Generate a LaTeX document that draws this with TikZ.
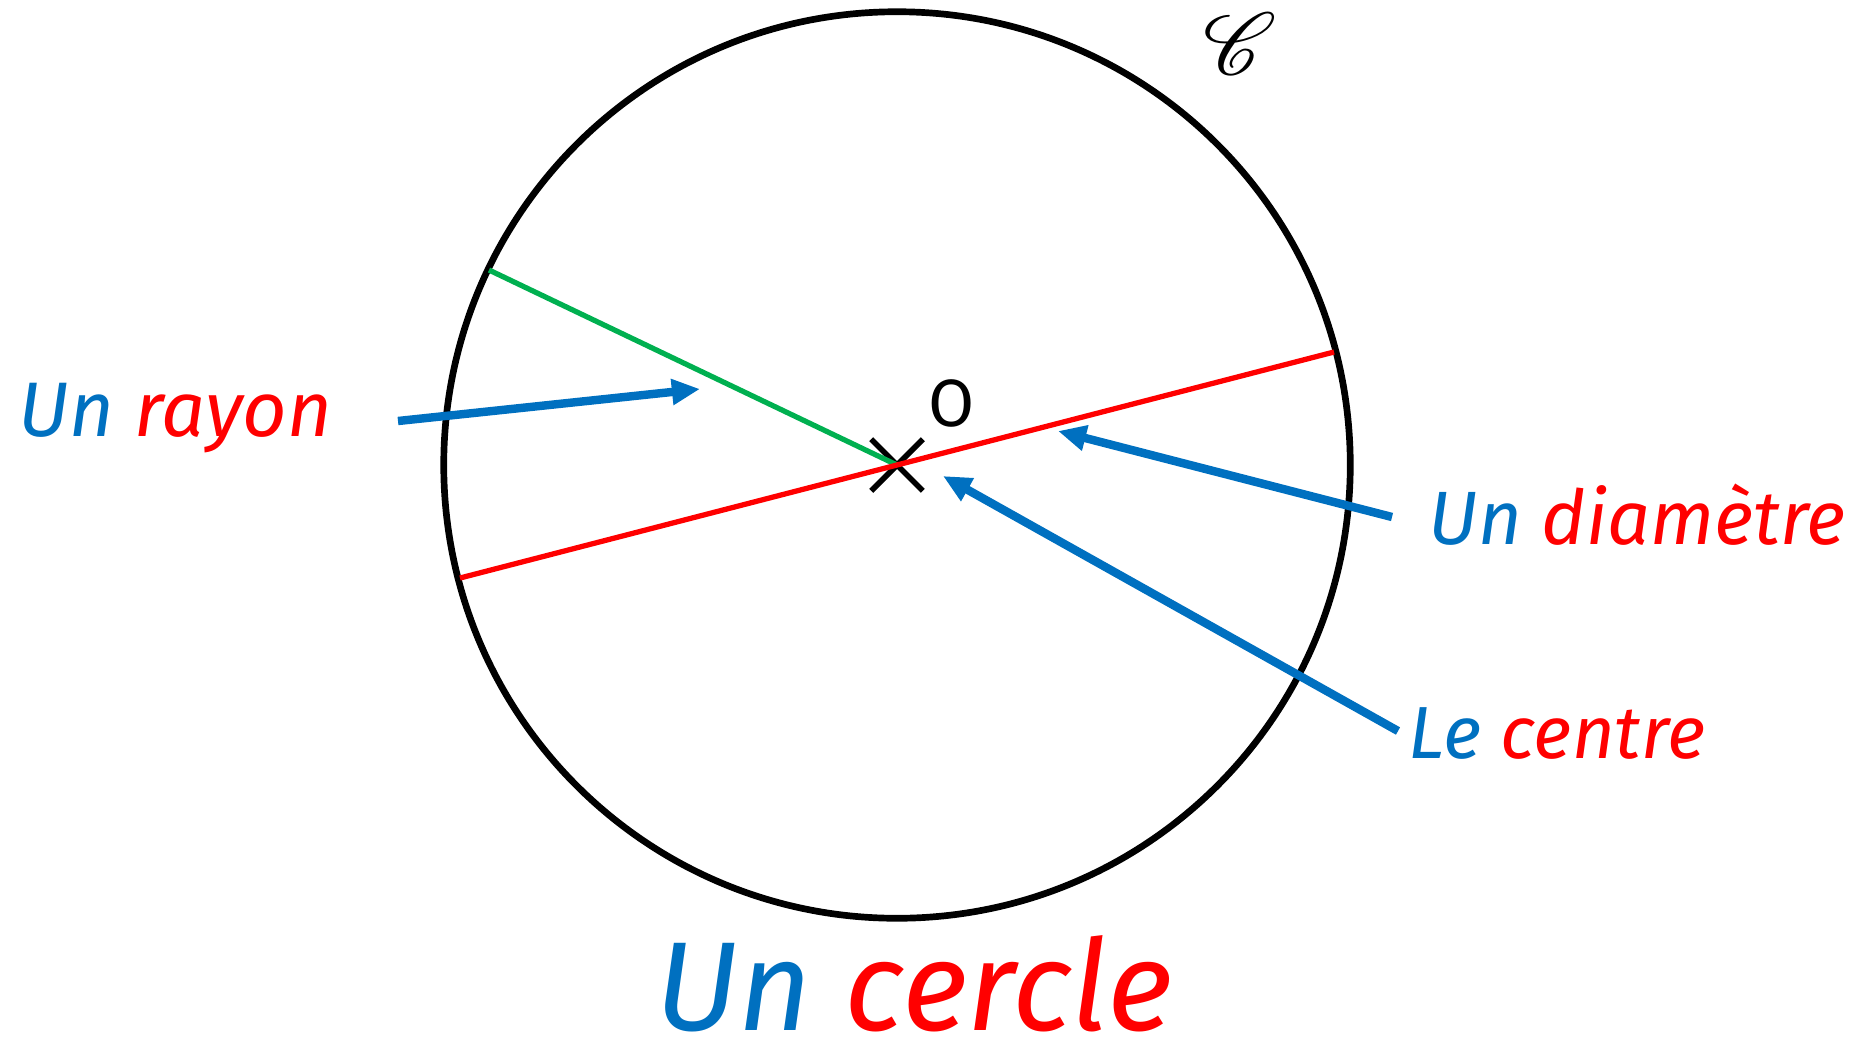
\documentclass[tikz,border=0pt]{standalone}
\usepackage{fontspec}
\setmainfont{Fira Sans}
\usepackage{mathrsfs}
\usepackage{tikz}
\usetikzlibrary{arrows.meta,positioning,shapes.misc}
\definecolor{cercleBlue}{RGB}{0,112,192}
\definecolor{cercleRed}{RGB}{255,0,0}
\definecolor{cercleGreen}{RGB}{0,176,80}
\tikzset{
    labelnode/.style={anchor=base west, inner sep=0pt, font=\fontsize{22}{26}\selectfont\itshape},
    pointer/.style={cercleBlue, line width=2.4pt, -{Triangle[length=8pt,width=7pt]}},
}

\begin{document}
\begin{tikzpicture}[x=0.01cm, y=-0.01cm]
    \useasboundingbox (0,0) rectangle (1858,1045);

    % circle and its centre
    \coordinate (O) at (897,465);
    \draw[black, line width=1.9pt] (O) circle[radius=4.53cm];
    \node[font=\fontsize{32}{34}\selectfont, inner sep=0pt] (C) at (1240,44) {$\mathscr{C}$};
    \node[draw, cross out, minimum size=0.46cm, inner sep=0pt, line width=1.6pt] (X) at (O) {};
    \node[font=\fontsize{19}{22}\selectfont, inner sep=0pt] (Olabel) at (952,403) {O};

    % radius and diameter
    \coordinate (R) at (489,270);
    \coordinate (D1) at (1334,352);
    \coordinate (D2) at (460,578);
    \draw[cercleGreen, line width=1.5pt] (O) -- (R);
    \draw[cercleRed, line width=1.5pt] (D2) -- (D1);

    % labels
    \node[labelnode] (rayon) at (18,436) {\textcolor{cercleBlue}{Un} \textcolor{cercleRed}{rayon}};
    \node[labelnode, font=\fontsize{21.5}{25}\selectfont\itshape] (diametre) at (1428,544) {\textcolor{cercleBlue}{Un} \textcolor{cercleRed}{diamètre}};
    \node[labelnode, font=\fontsize{21}{25}\selectfont\itshape] (centre) at (1408,758) {\textcolor{cercleBlue}{Le} \textcolor{cercleRed}{centre}};
    \node[labelnode, font=\fontsize{36}{40}\selectfont\itshape] (titre) at (655,1030) {\textcolor{cercleBlue}{Un} \textcolor{cercleRed}{cercle}};

    % pointers
    \coordinate (rayonTail) at (398,421);
    \coordinate (rayonTip) at (700,389);
    \coordinate (diametreTail) at (1392,517);
    \coordinate (diametreTip) at (1058,431);
    \coordinate (centreTail) at (1398,731);
    \coordinate (centreTip) at (943,476);
    \draw[pointer] (rayonTail) -- (rayonTip);
    \draw[pointer] (diametreTail) -- (diametreTip);
    \draw[pointer] (centreTail) -- (centreTip);
\end{tikzpicture}
\end{document}
